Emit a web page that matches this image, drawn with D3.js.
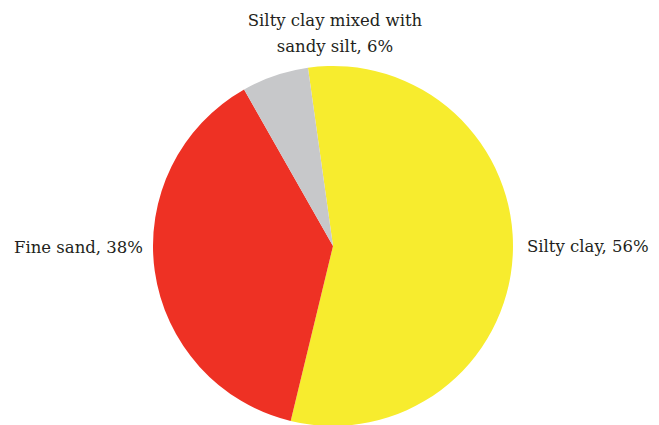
<!DOCTYPE html>
<html>
<head>
<meta charset="utf-8">
<script src="https://cdn.jsdelivr.net/npm/d3@7"></script>
<style>
  html, body { margin: 0; padding: 0; background: #fff; }
  svg { display: block; }
</style>
</head>
<body>
<svg id="chart" width="659" height="425"></svg>
<script>
// Soil composition shares (percent)
const categories = ["Silty clay", "Fine sand", "Silty clay mixed with sandy silt"];
const values = [56, 38, 6];
const colors = ["#f7ec2e", "#ee3124", "#c7c8ca"];
const labelLines = [
  ["Silty clay, 56%"],
  ["Fine sand, 38%"],
  ["Silty clay mixed with", "sandy silt, 6%"]
];

const svg = d3.select("#chart");
const cx = 333, cy = 246, r = 180;
const fontFamily = "'DejaVu Serif', serif";

const pie = d3.pie()
  .sort(null)
  .value(d => d.value)
  .startAngle(-8 * Math.PI / 180)
  .endAngle(-8 * Math.PI / 180 + 2 * Math.PI);

const data = categories.map((c, i) => ({ name: c, value: values[i], color: colors[i], lines: labelLines[i] }));
const arcs = pie(data);
const arc = d3.arc().innerRadius(0).outerRadius(r);

const g = svg.append("g").attr("transform", `translate(${cx},${cy})`);
g.selectAll("path")
  .data(arcs)
  .join("path")
  .attr("d", arc)
  .attr("fill", d => d.data.color);

// Labels: right, left and top of the pie
const fs = 16.5;
const labelPos = [
  { x: cx + r + 14, y: 252, anchor: "start" },
  { x: cx - r - 10, y: 253, anchor: "end" },
  { x: 335, y: 26, anchor: "middle" }
];
arcs.forEach((a, i) => {
  const p = labelPos[i];
  const t = svg.append("text")
    .attr("x", p.x)
    .attr("y", p.y)
    .attr("text-anchor", p.anchor)
    .attr("font-family", fontFamily)
    .attr("font-size", fs)
    .attr("fill", "#231f20");
  a.data.lines.forEach((line, j) => {
    t.append("tspan")
      .attr("x", p.x)
      .attr("dy", j === 0 ? 0 : 26)
      .text(line);
  });
});
</script>
</body>
</html>
